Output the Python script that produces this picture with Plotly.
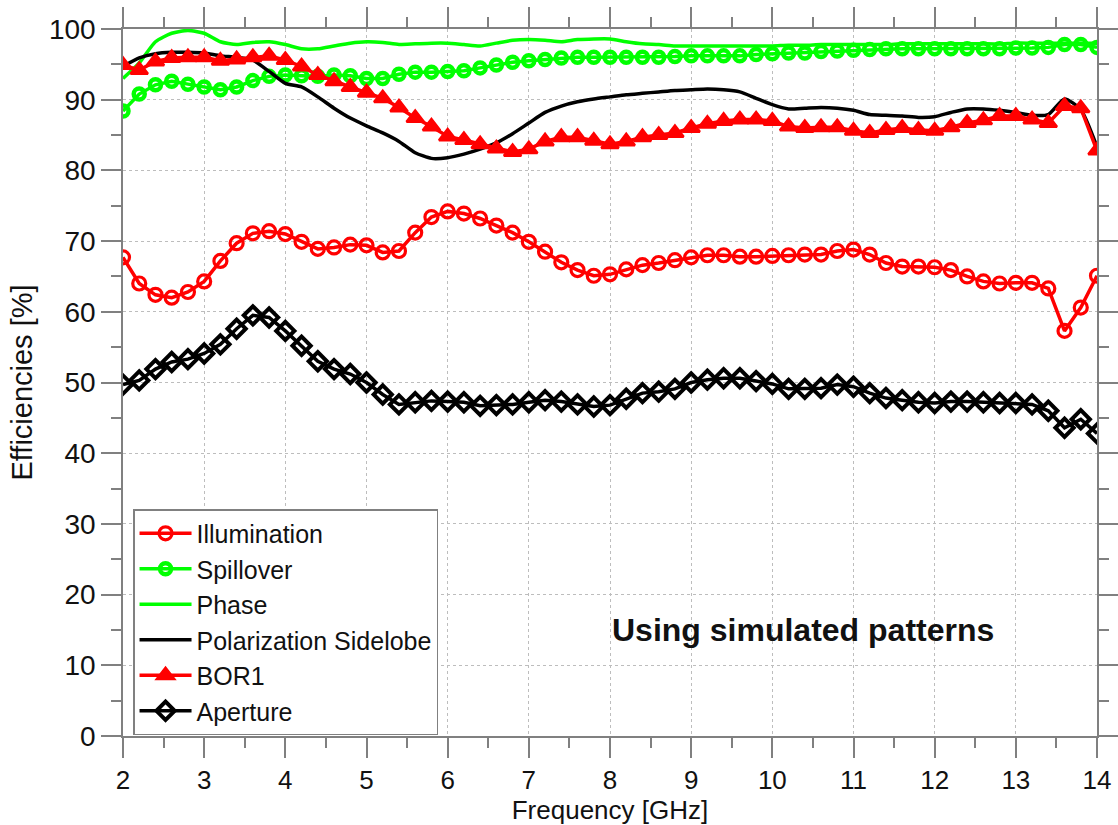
import plotly.graph_objects as go

freq = [2.0, 2.2, 2.4, 2.6, 2.8, 3.0, 3.2, 3.4, 3.6, 3.8,
        4.0, 4.2, 4.4, 4.6, 4.8, 5.0, 5.2, 5.4, 5.6, 5.8,
        6.0, 6.2, 6.4, 6.6, 6.8, 7.0, 7.2, 7.4, 7.6, 7.8,
        8.0, 8.2, 8.4, 8.6, 8.8, 9.0, 9.2, 9.4, 9.6, 9.8,
        10.0, 10.2, 10.4, 10.6, 10.8, 11.0, 11.2, 11.4, 11.6, 11.8,
        12.0, 12.2, 12.4, 12.6, 12.8, 13.0, 13.2, 13.4, 13.6, 13.8,
        14.0]

illumination = [67.7, 64.0, 62.4, 62.0, 62.8, 64.3, 67.2, 69.7, 71.1, 71.4,
                71.0, 69.9, 68.9, 69.1, 69.5, 69.4, 68.4, 68.6, 71.2, 73.4,
                74.2, 73.9, 73.2, 72.2, 71.2, 69.9, 68.5, 67.0, 65.9, 65.1,
                65.3, 66.0, 66.6, 66.9, 67.3, 67.7, 68.0, 68.0, 67.8, 67.8,
                67.9, 68.0, 68.1, 68.1, 68.6, 68.8, 68.1, 66.9, 66.4, 66.4,
                66.3, 65.9, 65.0, 64.3, 64.0, 64.1, 64.1, 63.3, 57.3, 60.6,
                65.1]

spillover = [88.4, 90.8, 92.1, 92.6, 92.2, 91.8, 91.4, 91.8, 92.7, 93.3,
             93.5, 93.4, 93.3, 93.5, 93.4, 93.0, 93.0, 93.6, 93.9, 93.9,
             94.0, 94.1, 94.5, 94.9, 95.3, 95.5, 95.7, 95.9, 96.0, 96.0,
             96.0, 96.0, 96.0, 96.0, 96.1, 96.2, 96.2, 96.2, 96.2, 96.4,
             96.5, 96.6, 96.6, 96.8, 96.9, 97.0, 97.1, 97.2, 97.2, 97.2,
             97.2, 97.2, 97.2, 97.2, 97.2, 97.3, 97.3, 97.4, 97.8, 97.8,
             97.4]

phase = [93.0, 95.2, 98.2, 99.4, 99.8, 99.4, 98.2, 97.8, 98.1, 98.2,
         97.8, 97.2, 97.2, 97.6, 98.0, 98.2, 98.1, 97.8, 97.9, 98.0,
         98.0, 97.8, 97.6, 98.0, 98.4, 98.5, 98.4, 98.2, 98.5, 98.6,
         98.6, 98.2, 97.9, 97.8, 97.6, 97.6, 97.6, 97.6, 97.6, 97.6,
         97.6, 97.7, 97.7, 97.8, 97.8, 97.8, 97.8, 97.8, 97.9, 97.9,
         97.9, 97.9, 97.9, 97.9, 97.9, 98.0, 98.0, 98.0, 98.0, 98.0,
         98.0]

polarization = [94.7, 95.9, 96.5, 96.7, 96.7, 96.6, 96.2, 96.0, 95.6, 94.0,
                92.3, 91.8, 90.4, 88.8, 87.4, 86.3, 85.3, 84.1, 82.5, 81.7,
                81.8, 82.3, 83.0, 83.9, 85.2, 86.7, 88.2, 89.1, 89.7, 90.1,
                90.4, 90.7, 90.9, 91.1, 91.3, 91.4, 91.5, 91.4, 91.1, 90.2,
                89.3, 88.7, 88.8, 88.9, 88.8, 88.5, 87.9, 87.8, 87.7, 87.5,
                87.6, 88.2, 88.7, 88.7, 88.5, 88.2, 87.8, 87.9, 90.1, 88.6,
                83.3]

bor1 = [94.9, 94.2, 95.4, 95.9, 96.0, 96.0, 95.5, 95.7, 96.0, 96.2,
        95.6, 94.7, 93.5, 92.6, 91.8, 91.0, 90.2, 88.9, 87.4, 86.2,
        84.8, 84.3, 83.7, 83.1, 82.6, 83.0, 84.1, 84.7, 84.7, 84.2,
        83.7, 84.1, 84.7, 85.0, 85.3, 86.0, 86.6, 87.0, 87.2, 87.2,
        87.0, 86.2, 86.0, 86.1, 86.1, 85.6, 85.3, 85.7, 86.0, 85.7,
        85.6, 86.1, 86.7, 87.1, 87.7, 87.7, 87.2, 86.7, 89.1, 88.8,
        82.8]

aperture = [49.7, 50.3, 51.9, 52.9, 53.3, 54.1, 55.4, 57.6, 59.5, 59.2,
            57.3, 55.2, 53.0, 51.9, 51.2, 50.0, 48.3, 46.9, 47.2, 47.4,
            47.3, 47.2, 46.7, 46.8, 46.9, 47.2, 47.5, 47.3, 46.9, 46.6,
            46.8, 47.7, 48.5, 48.7, 49.1, 50.0, 50.4, 50.6, 50.6, 50.2,
            49.8, 49.1, 49.1, 49.2, 49.7, 49.4, 48.5, 47.8, 47.5, 47.2,
            47.1, 47.3, 47.3, 47.2, 47.1, 47.1, 46.9, 46.0, 43.6, 44.8,
            42.8]

RED = "#ff0000"
GREEN = "#00ff00"
BLACK = "#000000"
FONT = "Arial, 'Liberation Sans', sans-serif"
TXT = "#111111"

fig = go.Figure()
fig.add_trace(go.Scatter(
    x=freq, y=illumination, name="Illumination", mode="lines+markers",
    line=dict(color=RED, width=3.5),
    marker=dict(symbol="circle-open", size=13, color=RED, line=dict(width=3.2, color=RED))))
fig.add_trace(go.Scatter(
    x=freq, y=spillover, name="Spillover", mode="lines+markers",
    line=dict(color=GREEN, width=3.5),
    marker=dict(symbol="circle-open", size=11, color=GREEN, line=dict(width=4.5, color=GREEN))))
fig.add_trace(go.Scatter(
    x=freq, y=phase, name="Phase", mode="lines",
    line=dict(color=GREEN, width=3.5, shape="spline", smoothing=0.6)))
fig.add_trace(go.Scatter(
    x=freq, y=polarization, name="Polarization Sidelobe", mode="lines",
    line=dict(color=BLACK, width=3.5, shape="spline", smoothing=0.6)))
fig.add_trace(go.Scatter(
    x=freq, y=bor1, name="BOR1", mode="lines+markers",
    line=dict(color=RED, width=3.5),
    marker=dict(symbol="triangle-up", size=15, color=RED, line=dict(width=2.5, color=RED))))
fig.add_trace(go.Scatter(
    x=freq, y=aperture, name="Aperture", mode="lines+markers",
    line=dict(color=BLACK, width=3.5),
    marker=dict(symbol="diamond-open", size=14, color=BLACK, line=dict(width=4, color=BLACK))))

axis_common = dict(
    showline=True, linecolor="#808080", linewidth=1.5, mirror="ticks",
    ticks="outside", ticklen=20, tickwidth=1.5, tickcolor="#808080",
    showgrid=True, gridcolor="#bdbdbd", gridwidth=1, griddash="3px,3px",
    zeroline=False,
)

fig.update_xaxes(
    range=[2, 14], tick0=2, dtick=1,
    tickfont=dict(size=26, color=TXT, family=FONT),
    minor=dict(dtick=0.5, ticks="outside", ticklen=10, tickwidth=1.5,
               tickcolor="#808080", showgrid=False),
    title=dict(text="Frequency [GHz]", font=dict(size=26, color=TXT, family=FONT), standoff=6),
    **axis_common)
fig.update_yaxes(
    range=[0, 100], tick0=0, dtick=10,
    tickfont=dict(size=28, color=TXT, family=FONT),
    minor=dict(dtick=5, ticks="outside", ticklen=10, tickwidth=1.5,
               tickcolor="#808080", showgrid=False),
    title=dict(text="Efficiencies [%]", font=dict(size=29, color=TXT, family=FONT), standoff=8),
    **axis_common)

fig.add_annotation(
    x=0.698, y=0.15, xref="paper", yref="paper", xanchor="center", yanchor="middle",
    text="<b>Using simulated patterns</b>", showarrow=False,
    font=dict(size=32, color=TXT, family=FONT))

fig.update_layout(
    width=1118, height=825,
    margin=dict(l=123, r=21, t=29, b=89, autoexpand=False),
    plot_bgcolor="white", paper_bgcolor="white",
    font=dict(family=FONT, color=TXT),
    legend=dict(x=0.0103, y=0.321, xanchor="left", yanchor="top",
                bgcolor="white", bordercolor="#808080", borderwidth=1.5,
                font=dict(size=25, family=FONT, color=TXT),
                tracegroupgap=0, itemwidth=52),
    showlegend=True,
)

fig.write_html("out.html")
